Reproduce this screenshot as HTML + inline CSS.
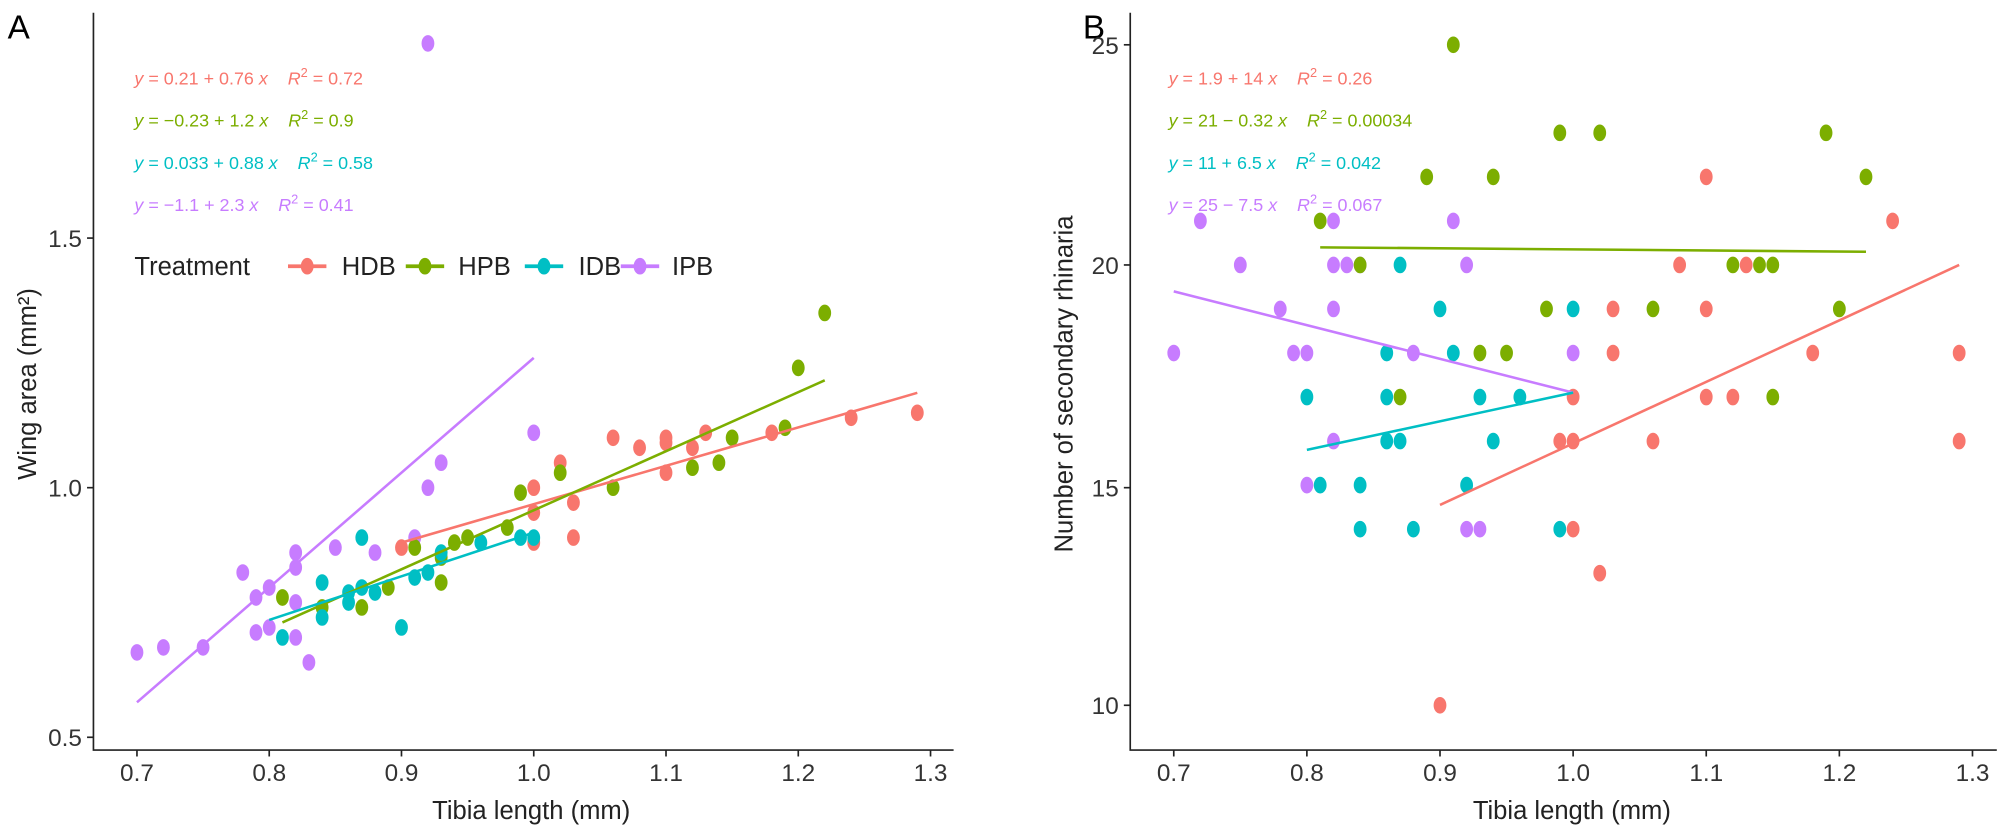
<!DOCTYPE html>
<html><head><meta charset="utf-8"><style>
body{margin:0;background:#fff;width:2007px;height:828px;overflow:hidden}
svg{font-family:"Liberation Sans",sans-serif}
text{white-space:pre}
</style></head><body>
<svg width="2007" height="828" xmlns="http://www.w3.org/2000/svg">
<g id="s" transform="scale(1.28)">
<text x="6" y="30" font-size="26">A</text>
<text x="846" y="30" font-size="26">B</text>
<g stroke="#222" stroke-width="1.3" fill="none">
<path d="M73,10 V586 H745"/>
<path d="M883,10 V586 H1560"/>
</g>
<g font-size="19" fill="#333" text-anchor="end">
<text x="64" y="193">1.5</text><text x="64" y="388">1.0</text><text x="64" y="583">0.5</text>
<text x="874" y="42">25</text><text x="874" y="214">20</text><text x="874" y="388">15</text><text x="874" y="558">10</text>
</g>
<g font-size="19" fill="#333" text-anchor="middle" id="xt"></g>
<text x="415" y="640" font-size="20" text-anchor="middle" fill="#222">Tibia length (mm)</text>
<text x="1228" y="640" font-size="20" text-anchor="middle" fill="#222">Tibia length (mm)</text>
<text transform="translate(28,300) rotate(-90)" font-size="20" text-anchor="middle" fill="#222">Wing area (mm²)</text>
<text transform="translate(838,300) rotate(-90)" font-size="20" text-anchor="middle" fill="#222">Number of secondary rhinaria</text>
<g font-size="14">
<text x="105" y="66" fill="#F8766D"><tspan font-style="italic">y</tspan> = 0.21 + 0.76 <tspan font-style="italic">x</tspan>    <tspan font-style="italic">R</tspan><tspan dy="-6" font-size="10">2</tspan><tspan dy="6"> = 0.72</tspan></text>
<text x="105" y="99" fill="#7CAE00"><tspan font-style="italic">y</tspan> = −0.23 + 1.2 <tspan font-style="italic">x</tspan>    <tspan font-style="italic">R</tspan><tspan dy="-6" font-size="10">2</tspan><tspan dy="6"> = 0.9</tspan></text>
<text x="105" y="132" fill="#00BFC4"><tspan font-style="italic">y</tspan> = 0.033 + 0.88 <tspan font-style="italic">x</tspan>    <tspan font-style="italic">R</tspan><tspan dy="-6" font-size="10">2</tspan><tspan dy="6"> = 0.58</tspan></text>
<text x="105" y="165" fill="#C77CFF"><tspan font-style="italic">y</tspan> = −1.1 + 2.3 <tspan font-style="italic">x</tspan>    <tspan font-style="italic">R</tspan><tspan dy="-6" font-size="10">2</tspan><tspan dy="6"> = 0.41</tspan></text>
<text x="913" y="66" fill="#F8766D"><tspan font-style="italic">y</tspan> = 1.9 + 14 <tspan font-style="italic">x</tspan>    <tspan font-style="italic">R</tspan><tspan dy="-6" font-size="10">2</tspan><tspan dy="6"> = 0.26</tspan></text>
<text x="913" y="99" fill="#7CAE00"><tspan font-style="italic">y</tspan> = 21 − 0.32 <tspan font-style="italic">x</tspan>    <tspan font-style="italic">R</tspan><tspan dy="-6" font-size="10">2</tspan><tspan dy="6"> = 0.00034</tspan></text>
<text x="913" y="132" fill="#00BFC4"><tspan font-style="italic">y</tspan> = 11 + 6.5 <tspan font-style="italic">x</tspan>    <tspan font-style="italic">R</tspan><tspan dy="-6" font-size="10">2</tspan><tspan dy="6"> = 0.042</tspan></text>
<text x="913" y="165" fill="#C77CFF"><tspan font-style="italic">y</tspan> = 25 − 7.5 <tspan font-style="italic">x</tspan>    <tspan font-style="italic">R</tspan><tspan dy="-6" font-size="10">2</tspan><tspan dy="6"> = 0.067</tspan></text>
</g>
<g font-size="20" fill="#222">
<text x="105" y="215">Treatment</text>
<text x="267" y="215">HDB</text><text x="358" y="215">HPB</text><text x="452" y="215">IDB</text><text x="525" y="215">IPB</text>
</g>
<g stroke-width="3">
<line x1="225" y1="208" x2="255" y2="208" stroke="#F8766D"/><line x1="317" y1="208" x2="347" y2="208" stroke="#7CAE00"/>
<line x1="410" y1="208" x2="440" y2="208" stroke="#00BFC4"/><line x1="485" y1="208" x2="515" y2="208" stroke="#C77CFF"/>
</g>
<ellipse cx="240" cy="208" rx="5" ry="6.5" fill="#F8766D"/><ellipse cx="332" cy="208" rx="5" ry="6.5" fill="#7CAE00"/>
<ellipse cx="425" cy="208" rx="5" ry="6.5" fill="#00BFC4"/><ellipse cx="500" cy="208" rx="5" ry="6.5" fill="#C77CFF"/>
<g id="pts"></g>
</g>
</svg>
<script>
var NS="http://www.w3.org/2000/svg",s=document.getElementById('s'),g=document.getElementById('pts'),xt=document.getElementById('xt');
function el(n,a,p){var e=document.createElementNS(NS,n);for(var k in a)e.setAttribute(k,a[k]);(p||g).appendChild(e);return e;}
var C={r:"#F8766D",g:"#7CAE00",c:"#00BFC4",p:"#C77CFF"};
function ax(x){return 107+(x-0.7)*1033.3} function ay(y){return 576-(y-0.5)*390}
function bx(x){return 917+(x-0.7)*1040} function by(y){return 551-(y-10)*34.4}
for(var i=0;i<7;i++){var v=0.7+i*0.1,l=v.toFixed(1);
 el('line',{x1:ax(v),y1:586,x2:ax(v),y2:591,stroke:'#222','stroke-width':1.3},s);
 el('line',{x1:bx(v),y1:586,x2:bx(v),y2:591,stroke:'#222','stroke-width':1.3},s);
 var t=el('text',{x:ax(v),y:610},xt);t.textContent=l;
 var t2=el('text',{x:bx(v),y:610},xt);t2.textContent=l;}
[186,381,576].forEach(function(y){el('line',{x1:68,y1:y,x2:73,y2:y,stroke:'#222','stroke-width':1.3},s);});
[35,207,381,551].forEach(function(y){el('line',{x1:878,y1:y,x2:883,y2:y,stroke:'#222','stroke-width':1.3},s);});
var A={p:[[0.70,0.67],[0.72,0.68],[0.75,0.68],[0.78,0.83],[0.79,0.78],[0.79,0.71],[0.80,0.80],[0.80,0.72],[0.82,0.87],[0.82,0.84],[0.82,0.77],[0.82,0.70],[0.83,0.65],[0.85,0.88],[0.88,0.87],[0.91,0.90],[0.92,1.0],[0.93,1.05],[1.00,1.11],[0.92,1.89]],
r:[[0.90,0.88],[1.00,0.89],[1.00,0.95],[1.00,1.00],[1.02,1.05],[1.03,0.97],[1.03,0.90],[1.06,1.10],[1.08,1.08],[1.10,1.10],[1.10,1.09],[1.10,1.03],[1.12,1.08],[1.13,1.11],[1.18,1.11],[1.24,1.14],[1.29,1.15]],
g:[[0.81,0.78],[0.84,0.76],[0.87,0.76],[0.89,0.80],[0.91,0.88],[0.93,0.86],[0.93,0.81],[0.94,0.89],[0.95,0.90],[0.98,0.92],[0.99,0.99],[1.02,1.03],[1.06,1.00],[1.12,1.04],[1.14,1.05],[1.15,1.10],[1.19,1.12],[1.20,1.24],[1.22,1.35]],
c:[[0.81,0.70],[0.84,0.74],[0.84,0.81],[0.86,0.77],[0.86,0.79],[0.87,0.90],[0.87,0.80],[0.88,0.79],[0.90,0.72],[0.91,0.82],[0.92,0.83],[0.93,0.87],[0.96,0.89],[0.99,0.90],[1.00,0.90]]};
var B={g:[[0.91,25],[0.99,23],[1.02,23],[1.19,23],[0.89,22],[0.94,22],[1.22,22],[0.81,21],[0.84,20],[1.12,20],[1.14,20],[1.15,20],[0.98,19],[1.06,19],[1.20,19],[0.93,18],[0.95,18],[0.87,17],[1.15,17]],
p:[[0.70,18],[0.72,21],[0.75,20],[0.78,19],[0.79,18],[0.80,18],[0.80,15],[0.82,21],[0.82,20],[0.83,20],[0.84,20],[0.82,19],[0.82,16],[0.88,18],[0.91,21],[0.92,20],[0.92,14],[0.93,14],[1.00,18]],
c:[[0.80,17],[0.81,15],[0.84,15],[0.84,14],[0.86,18],[0.86,16],[0.87,16],[0.86,17],[0.87,20],[0.88,14],[0.90,19],[0.91,18],[0.93,17],[0.92,15],[0.94,16],[0.96,17],[0.99,14],[1.00,19]],
r:[[0.90,10],[0.99,16],[1.00,16],[1.00,17],[1.00,14],[1.02,13],[1.03,19],[1.03,18],[1.06,16],[1.08,20],[1.10,22],[1.10,19],[1.10,17],[1.12,17],[1.13,20],[1.18,18],[1.24,21],[1.29,18],[1.29,16]]};
['p','r','g','c'].forEach(function(k){A[k].forEach(function(d){el('ellipse',{cx:ax(d[0]),cy:ay(d[1]),rx:5,ry:6.5,fill:C[k]});});});
['p','c','g','r'].forEach(function(k){B[k].forEach(function(d){el('ellipse',{cx:bx(d[0]),cy:by(d[1]),rx:5,ry:6.5,fill:C[k]});});});
var LA=[['p',0.70,0.57,1.00,1.26],['r',0.90,0.89,1.29,1.19],['g',0.81,0.73,1.22,1.215],['c',0.80,0.735,1.00,0.91]];
LA.forEach(function(l){el('line',{x1:ax(l[1]),y1:ay(l[2]),x2:ax(l[3]),y2:ay(l[4]),stroke:C[l[0]],'stroke-width':2});});
var LB=[['p',0.70,19.4,1.00,17.1],['r',0.90,14.55,1.29,20.0],['g',0.81,20.4,1.22,20.3],['c',0.80,15.8,1.00,17.1]];
LB.forEach(function(l){el('line',{x1:bx(l[1]),y1:by(l[2]),x2:bx(l[3]),y2:by(l[4]),stroke:C[l[0]],'stroke-width':2});});
</script>
</body></html>
